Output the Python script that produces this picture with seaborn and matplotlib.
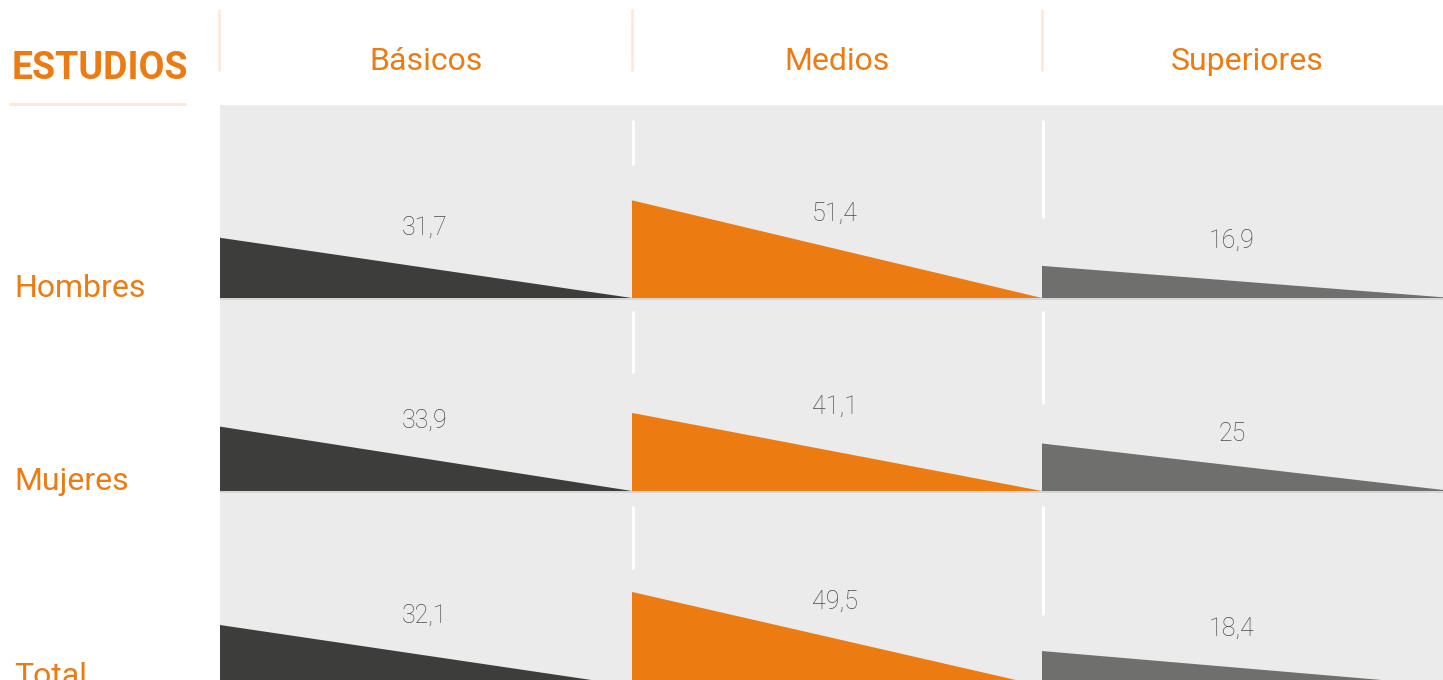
import matplotlib
matplotlib.use("Agg")
import matplotlib.pyplot as plt
import seaborn as sns

# --- datos ---------------------------------------------------------------
niveles = ["Básicos", "Medios", "Superiores"]
grupos = ["Hombres", "Mujeres", "Total"]
basicos = [31.7, 33.9, 32.1]
medios = [51.4, 41.1, 49.5]
superiores = [16.9, 25.0, 18.4]
titulo = "ESTUDIOS"

# --- estilo ----------------------------------------------------------------
sns.set_theme(style="white")
plt.rcParams["font.family"] = ["Roboto", "DejaVu Sans"]

NARANJA = "#EC7B12"
NARANJA_CLARO = "#FDE6D4"
FONDO = "#EBEBEB"
colores = ["#3D3D3B", NARANJA, "#6F6F6D"]

W, H = 1443, 680
PX = 1.9                      # pixels por punto porcentual
col_x = [220, 632, 1042]      # borde izquierdo de cada columna (px)
col_w = [412, 410, 410]
panel_top = 105
row_base_px = [298, 491, 686]  # línea base de cada fila (px desde arriba)
label_dy_px = [70, 84, 57]     # altura de la etiqueta sobre la base
label_fx = [0.497, 0.495, 0.463]
# tramos blancos verticales a la izquierda de cada columna (inicio, fin) px
sep_px = {1: [(120, 165), (311, 373), (506, 569)],
          2: [(120, 218), (311, 404), (506, 615)]}


def fx(x):
    return x / W


def fy(y):
    return 1 - y / H


def to_units(y_px):
    # coordenada y (px desde arriba) -> unidades de datos del eje
    return (H - y_px) / PX


fig = plt.figure(figsize=(W / 100, H / 100), dpi=100)
fig.patch.set_facecolor("white")

series = [basicos, medios, superiores]
for c, (nombre, valores) in enumerate(zip(niveles, series)):
    ax = fig.add_axes([fx(col_x[c]), 0, col_w[c] / W, (H - panel_top) / H])
    ax.set_facecolor(FONDO)
    ax.set_xlim(0, 1)
    ax.set_ylim(0, (H - panel_top) / PX)
    ax.set_xticks([])
    ax.set_yticks([])
    sns.despine(ax=ax, left=True, bottom=True)

    for r, v in enumerate(valores):
        base = to_units(row_base_px[r])
        ax.plot([0, 1], [base - 0.35, base - 0.35], color="#D2D2D2", lw=1.2,
                zorder=1, solid_capstyle="butt")
        ax.fill([0, 0, 1], [base, base + v, base], color=colores[c],
                lw=0, zorder=2)
        txt = f"{v:g}".replace(".", ",")
        ax.text(label_fx[c], base + label_dy_px[c] / PX, txt, ha="center",
                va="center", fontsize=18, fontweight="light", color="#4A4A4A",
                zorder=3)

    if c in sep_px:
        for y0, y1 in sep_px[c]:
            ax.plot([0.003, 0.003], [to_units(y0), to_units(y1)], color="white",
                    lw=2.2, zorder=3, solid_capstyle="butt")

    # cabecera
    fig.text(fx(col_x[c] + col_w[c] / 2), fy(62), nombre, ha="center",
             va="center", fontsize=23, color=NARANJA)
    fig.add_artist(plt.Line2D([fx(col_x[c] - 0.5)] * 2, [fy(10), fy(70)],
                              color=NARANJA_CLARO, lw=1.8))

# título y subrayado
fig.text(fx(12), fy(79), titulo, ha="left", va="baseline", fontsize=27,
         fontweight="bold", color=NARANJA)
fig.add_artist(plt.Line2D([fx(10), fx(185)], [fy(104), fy(104)],
                          color=NARANJA_CLARO, lw=2))

# etiquetas de fila
for r, g in enumerate(grupos):
    fig.text(fx(14), fy(row_base_px[r] - 1), g, ha="left", va="baseline",
             fontsize=23, color=NARANJA)

fig.savefig("out.png", dpi=100, facecolor="white")
